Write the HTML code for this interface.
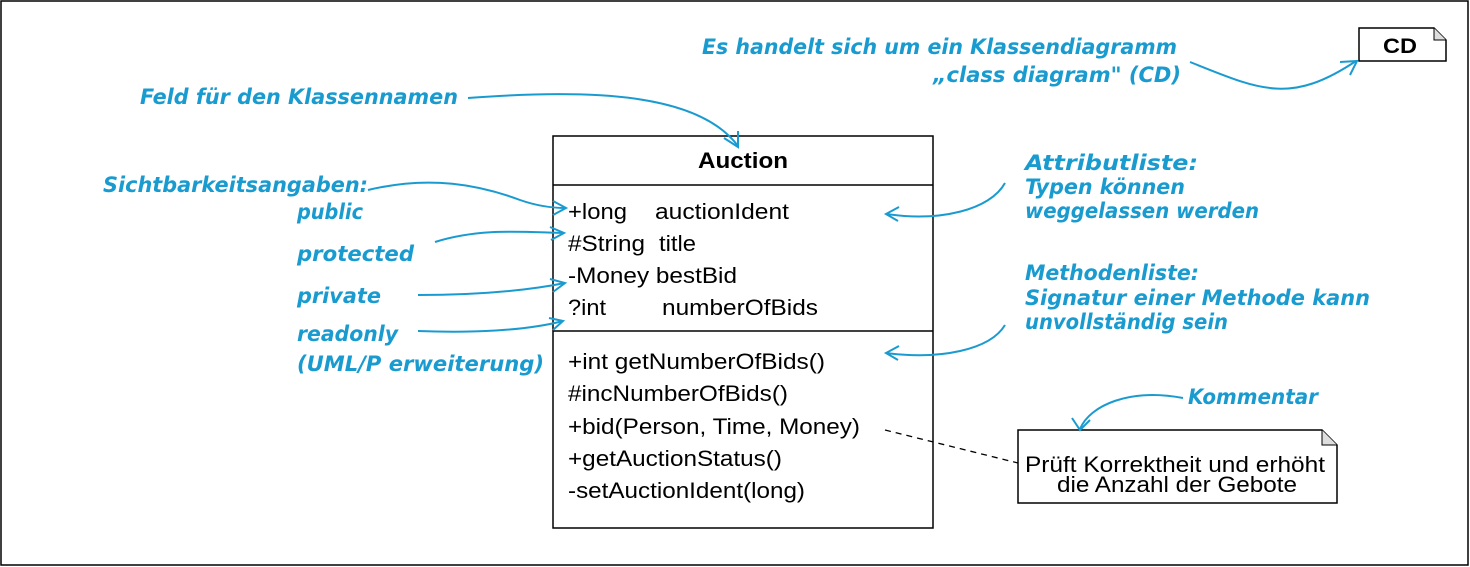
<!DOCTYPE html>
<html><head><meta charset="utf-8"><style>
html,body{margin:0;padding:0;background:#fff}
svg{display:block}
.b{font-family:"DejaVu Sans","Liberation Sans",sans-serif;font-weight:bold;font-style:italic;fill:#1a9bd0;font-size:21px}
.t{font-family:"Liberation Sans",sans-serif;font-size:22px;fill:#000}
.a{fill:none;stroke:#1a9bd0;stroke-width:2}
</style></head><body>
<svg width="1470" height="567" viewBox="0 0 1470 567" xmlns="http://www.w3.org/2000/svg">
<rect x="1" y="1" width="1467" height="564" fill="#fff" stroke="#000" stroke-width="1.5"/>
<!-- CD box -->
<path d="M1359,28 H1434 L1446,40 V61 H1359 Z" fill="#fff" stroke="#000" stroke-width="1.5"/>
<path d="M1434,28 V40 H1446" fill="#ddd" stroke="#000" stroke-width="1"/>
<text x="1383" y="53" textLength="34" lengthAdjust="spacingAndGlyphs" font-family="Liberation Sans,sans-serif" font-weight="bold" font-size="21">CD</text>
<!-- class box -->
<rect x="553" y="136" width="380" height="392" fill="#fff" stroke="#000" stroke-width="1.5"/>
<line x1="553" y1="185" x2="933" y2="185" stroke="#000" stroke-width="1.5"/>
<line x1="553" y1="331" x2="933" y2="331" stroke="#000" stroke-width="1.5"/>
<text x="698" y="168" textLength="90" lengthAdjust="spacingAndGlyphs" font-family="Liberation Sans,sans-serif" font-weight="bold" font-size="22">Auction</text>
<g lengthAdjust="spacingAndGlyphs">
<text class="t" x="568" y="219" textLength="59" lengthAdjust="spacingAndGlyphs">+long</text><text class="t" x="655" y="219" textLength="134" lengthAdjust="spacingAndGlyphs">auctionIdent</text>
<text class="t" x="568" y="251" textLength="77" lengthAdjust="spacingAndGlyphs">#String</text><text class="t" x="659" y="251" textLength="37" lengthAdjust="spacingAndGlyphs">title</text>
<text class="t" x="568" y="283" textLength="169" lengthAdjust="spacingAndGlyphs">-Money bestBid</text>
<text class="t" x="568" y="315" textLength="38" lengthAdjust="spacingAndGlyphs">?int</text><text class="t" x="662" y="315" textLength="156" lengthAdjust="spacingAndGlyphs">numberOfBids</text>
<text class="t" x="568" y="369" textLength="257" lengthAdjust="spacingAndGlyphs">+int getNumberOfBids()</text>
<text class="t" x="568" y="401" textLength="220" lengthAdjust="spacingAndGlyphs">#incNumberOfBids()</text>
<text class="t" x="568" y="434" textLength="292" lengthAdjust="spacingAndGlyphs">+bid(Person, Time, Money)</text>
<text class="t" x="568" y="466" textLength="214" lengthAdjust="spacingAndGlyphs">+getAuctionStatus()</text>
<text class="t" x="568" y="498" textLength="237" lengthAdjust="spacingAndGlyphs">-setAuctionIdent(long)</text>
</g>
<!-- note -->
<line x1="885" y1="430" x2="1018" y2="463" stroke="#000" stroke-width="1.3" stroke-dasharray="6,5"/>
<path d="M1018,430 H1322 L1337,445 V503 H1018 Z" fill="#fff" stroke="#000" stroke-width="1.5"/>
<path d="M1322,430 V445 H1337" fill="#ddd" stroke="#000" stroke-width="1"/>
<text class="t" x="1025" y="472" textLength="300" lengthAdjust="spacingAndGlyphs">Prüft Korrektheit und erhöht</text>
<text class="t" x="1057" y="492" textLength="240" lengthAdjust="spacingAndGlyphs">die Anzahl der Gebote</text>
<!-- blue labels -->
<text class="b" x="702" y="54" lengthAdjust="spacingAndGlyphs" textLength="475">Es handelt sich um ein Klassendiagramm</text>
<text class="b" x="933" y="82" lengthAdjust="spacingAndGlyphs" textLength="248">„class diagram" (CD)</text>
<text class="b" x="140" y="104" lengthAdjust="spacingAndGlyphs" textLength="318">Feld für den Klassennamen</text>
<text class="b" x="103" y="192" lengthAdjust="spacingAndGlyphs" textLength="265">Sichtbarkeitsangaben:</text>
<text class="b" x="297" y="219" lengthAdjust="spacingAndGlyphs" textLength="66">public</text>
<text class="b" x="297" y="261" lengthAdjust="spacingAndGlyphs" textLength="117">protected</text>
<text class="b" x="297" y="303" lengthAdjust="spacingAndGlyphs" textLength="84">private</text>
<text class="b" x="297" y="341" lengthAdjust="spacingAndGlyphs" textLength="101">readonly</text>
<text class="b" x="297" y="371" lengthAdjust="spacingAndGlyphs" textLength="247">(UML/P erweiterung)</text>
<text class="b" x="1025" y="170" lengthAdjust="spacingAndGlyphs" textLength="173">Attributliste:</text>
<text class="b" x="1025" y="194" lengthAdjust="spacingAndGlyphs" textLength="160">Typen können</text>
<text class="b" x="1025" y="218" lengthAdjust="spacingAndGlyphs" textLength="234">weggelassen werden</text>
<text class="b" x="1025" y="280" lengthAdjust="spacingAndGlyphs" textLength="174">Methodenliste:</text>
<text class="b" x="1025" y="305" lengthAdjust="spacingAndGlyphs" textLength="345">Signatur einer Methode kann</text>
<text class="b" x="1025" y="329" lengthAdjust="spacingAndGlyphs" textLength="203">unvollständig sein</text>
<text class="b" x="1188" y="404" lengthAdjust="spacingAndGlyphs" textLength="130">Kommentar</text>
<!-- arrows -->
<path class="a" d="M468,98 C600,88 700,95 738,146"/><path class="a" d="M724,138 L738,147 L738,131"/>
<path class="a" d="M1190,62 C1260,90 1290,105 1356,61"/><path class="a" d="M1340,62 L1357,61 L1350,75"/>
<path class="a" d="M368,190 C430,175 480,185 520,200 C540,207 555,208 566,208"/><path class="a" d="M553,201 L566,208 L553,215"/>
<path class="a" d="M435,242 C480,228 520,232 564,233"/><path class="a" d="M550,227 L564,233 L551,240"/>
<path class="a" d="M418,295 C470,295 520,292 565,283"/><path class="a" d="M550,279 L565,283 L553,292"/>
<path class="a" d="M418,331 C470,333 525,331 563,321"/><path class="a" d="M549,318 L563,321 L553,330"/>
<path class="a" d="M1005,183 C990,210 940,222 886,214"/><path class="a" d="M899,207 L886,214 L898,221"/>
<path class="a" d="M1005,325 C990,350 940,360 886,353"/><path class="a" d="M899,346 L886,353 L898,360"/>
<path class="a" d="M1183,398 C1130,388 1090,405 1080,429"/><path class="a" d="M1072,418 L1080,430 L1090,420"/>
</svg>
</body></html>
